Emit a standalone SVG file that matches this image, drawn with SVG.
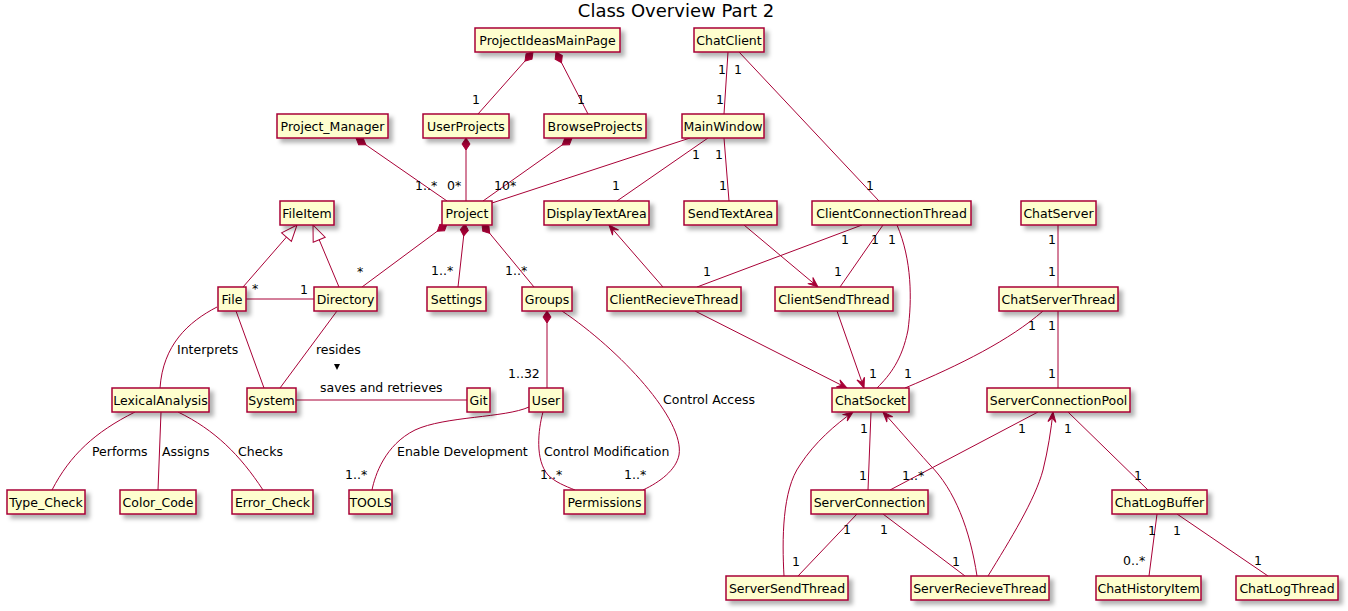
<svg xmlns="http://www.w3.org/2000/svg" width="1348" height="611" viewBox="0 0 1348 611">
<style>
.n rect{fill:#FEFECE;stroke:#A80036;stroke-width:1.5;filter:url(#sh)}
.n text{font-family:"DejaVu Sans",sans-serif;font-size:12.5px;text-anchor:middle;fill:#000}
.e path{stroke:#A80036;stroke-width:1;fill:none}
.l text{font-family:"DejaVu Sans",sans-serif;font-size:12.5px;fill:#000}
.comp{marker-start:url(#dia)}
.inh{marker-start:url(#tri)}
.arr{marker-end:url(#arr)}
</style>
<defs>
<filter id="sh" x="-20%" y="-30%" width="150%" height="200%"><feDropShadow dx="4" dy="4" stdDeviation="2" flood-color="#000" flood-opacity="0.3"/></filter>
<marker id="dia" markerUnits="userSpaceOnUse" viewBox="0 -5 14 10" refX="0" refY="0" markerWidth="14" markerHeight="10" orient="auto" overflow="visible"><path d="M0,0 L6,-4 L12,0 L6,4 Z" fill="#A80036" stroke="#A80036"/></marker>
<marker id="tri" markerUnits="userSpaceOnUse" viewBox="0 -8 18 16" refX="0" refY="0" markerWidth="18" markerHeight="16" orient="auto" overflow="visible"><path d="M0,0 L16,-6.5 L16,6.5 Z" fill="#fff" stroke="#A80036"/></marker>
<marker id="arr" markerUnits="userSpaceOnUse" viewBox="-12 -6 13 12" refX="0" refY="0" markerWidth="13" markerHeight="12" orient="auto" overflow="visible"><path d="M0,0 L-10,-4 L-6,0 L-10,4 Z" fill="#A80036" stroke="#A80036"/></marker>
</defs>
<text x="676" y="17" font-family="DejaVu Sans, sans-serif" font-size="18" text-anchor="middle" fill="#000">Class Overview Part 2</text>
<g class="e" id="connectors">
<path class="comp" d="M533,52 L478,114"/>
<path class="comp" d="M556,52 L588,114"/>
<path class="comp" d="M356,138 L447,201"/>
<path class="comp" d="M466,138 L466,201"/>
<path class="comp" d="M572,138 L483,201"/>
<path class="comp" d="M447,224 L362,287"/>
<path class="comp" d="M465,224 L458,287"/>
<path class="comp" d="M482,224 L534,287"/>
<path class="comp" d="M547,311 L547,388"/>
<path d="M690,138 L492,203"/>
<path d="M708,138 L617,201"/>
<path d="M724,138 L729,201"/>
<path d="M728,52 L724,114"/>
<path d="M739,52 L879,201"/>
<path class="inh" d="M297,225 L243,287"/>
<path class="inh" d="M313,225 L339,287"/>
<path d="M246,299 L314,299"/>
<path d="M217,307 C188,322 163,345 160,388"/>
<path d="M236,311 L264,388"/>
<path d="M337,311 L280,388"/>
<path d="M296,400 L467,400"/>
<path d="M562,311 C620,350 685,420 679,455 C676,470 660,482 643,490"/>
<path d="M529,407 C505,418 445,416 415,430 C385,445 375,475 372,490"/>
<path d="M543,412 C538,430 535,460 548,475 C555,482 565,486 575,490"/>
<path d="M135,412 C95,432 70,455 52,490"/>
<path d="M161,412 L158,490"/>
<path d="M178,412 C215,430 240,455 263,490"/>
<path class="arr" d="M663,287 L609,225"/>
<path class="arr" d="M744,225 L818,287"/>
<path d="M862,225 L697,287"/>
<path d="M883,225 L840,287"/>
<path d="M897,225 C912,260 912,300 908,330 C902,360 890,375 877,388"/>
<path class="arr" d="M695,311 L847,388"/>
<path class="arr" d="M837,311 L864,388"/>
<path d="M1043,311 C1010,340 960,365 905,388"/>
<path d="M1058,225 L1058,287"/>
<path d="M1058,311 L1058,388"/>
<path d="M871,412 L868,490"/>
<path d="M1038,412 L890,490"/>
<path d="M1068,412 L1148,490"/>
<path class="arr" d="M784,576 C782,540 782,490 800,465 C815,442 835,425 853,412"/>
<path d="M857,514 L798,576"/>
<path d="M883,514 L965,576"/>
<path class="arr" d="M977,576 C970,530 955,490 930,465 C912,445 895,425 883,412"/>
<path class="arr" d="M988,576 C1010,540 1035,500 1043,470 C1048,450 1051,430 1053,412"/>
<path d="M1157,514 L1149,576"/>
<path d="M1177,514 L1268,576"/>
<polygon points="334,364 340,364 337,370" fill="#000"/>
</g>
<g class="l" id="labels">
<text x="472" y="104">1</text>
<text x="577" y="104">1</text>
<text x="415" y="190">1..*</text>
<text x="447" y="190">0*</text>
<text x="494" y="190">10*</text>
<text x="612" y="190">1</text>
<text x="718" y="74">1</text>
<text x="734" y="74">1</text>
<text x="716" y="104">1</text>
<text x="692" y="159">1</text>
<text x="715" y="159">1</text>
<text x="719" y="190">1</text>
<text x="866" y="190">1</text>
<text x="252" y="293">*</text>
<text x="300" y="294">1</text>
<text x="357" y="276">*</text>
<text x="431" y="275">1..*</text>
<text x="505" y="275">1..*</text>
<text x="508" y="378">1..32</text>
<text x="316" y="354">resides</text>
<text x="320" y="392">saves and retrieves</text>
<text x="177" y="354">Interprets</text>
<text x="92" y="456">Performs</text>
<text x="162" y="456">Assigns</text>
<text x="238" y="456">Checks</text>
<text x="345" y="479">1..*</text>
<text x="397" y="456">Enable Development</text>
<text x="544" y="456">Control Modification</text>
<text x="540" y="479">1..*</text>
<text x="624" y="479">1..*</text>
<text x="663" y="404">Control Access</text>
<text x="841" y="244">1</text>
<text x="871" y="244">1</text>
<text x="888" y="244">1</text>
<text x="703" y="276">1</text>
<text x="834" y="276">1</text>
<text x="869" y="378">1</text>
<text x="904" y="378">1</text>
<text x="1048" y="244">1</text>
<text x="1048" y="276">1</text>
<text x="1028" y="330">1</text>
<text x="1048" y="330">1</text>
<text x="1048" y="378">1</text>
<text x="860" y="433">1</text>
<text x="859" y="480">1</text>
<text x="902" y="480">1..*</text>
<text x="1018" y="433">1</text>
<text x="1064" y="433">1</text>
<text x="843" y="534">1</text>
<text x="880" y="534">1</text>
<text x="792" y="566">1</text>
<text x="952" y="566">1</text>
<text x="1134" y="480">1</text>
<text x="1148" y="535">1</text>
<text x="1173" y="535">1</text>
<text x="1123" y="565">0..*</text>
<text x="1254" y="565">1</text>
</g>
<g class="n" id="ProjectIdeasMainPage"><rect x="475" y="28" width="145" height="24"/><text x="547.5" y="45">ProjectIdeasMainPage</text></g>
<g class="n" id="ChatClient"><rect x="694" y="28" width="70" height="24"/><text x="729" y="45">ChatClient</text></g>
<g class="n" id="Project_Manager"><rect x="277" y="114" width="111" height="24"/><text x="332.5" y="131">Project_Manager</text></g>
<g class="n" id="UserProjects"><rect x="423" y="114" width="86" height="24"/><text x="466" y="131">UserProjects</text></g>
<g class="n" id="BrowseProjects"><rect x="544" y="114" width="102" height="24"/><text x="595" y="131">BrowseProjects</text></g>
<g class="n" id="MainWindow"><rect x="682" y="114" width="82" height="24"/><text x="723" y="131">MainWindow</text></g>
<g class="n" id="FileItem"><rect x="280" y="201" width="54" height="24"/><text x="307" y="218">FileItem</text></g>
<g class="n" id="Project"><rect x="442" y="201" width="50" height="24"/><text x="467" y="218">Project</text></g>
<g class="n" id="DisplayTextArea"><rect x="544" y="201" width="105" height="24"/><text x="596.5" y="218">DisplayTextArea</text></g>
<g class="n" id="SendTextArea"><rect x="684" y="201" width="93" height="24"/><text x="730.5" y="218">SendTextArea</text></g>
<g class="n" id="ClientConnectionThread"><rect x="812" y="201" width="159" height="24"/><text x="891.5" y="218">ClientConnectionThread</text></g>
<g class="n" id="ChatServer"><rect x="1021" y="201" width="75" height="24"/><text x="1058.5" y="218">ChatServer</text></g>
<g class="n" id="File"><rect x="218" y="287" width="28" height="24"/><text x="232" y="304">File</text></g>
<g class="n" id="Directory"><rect x="314" y="287" width="63" height="24"/><text x="345.5" y="304">Directory</text></g>
<g class="n" id="Settings"><rect x="427" y="287" width="59" height="24"/><text x="456.5" y="304">Settings</text></g>
<g class="n" id="Groups"><rect x="522" y="287" width="50" height="24"/><text x="547" y="304">Groups</text></g>
<g class="n" id="ClientRecieveThread"><rect x="607" y="287" width="134" height="24"/><text x="674" y="304">ClientRecieveThread</text></g>
<g class="n" id="ClientSendThread"><rect x="775" y="287" width="118" height="24"/><text x="834" y="304">ClientSendThread</text></g>
<g class="n" id="ChatServerThread"><rect x="999" y="287" width="119" height="24"/><text x="1058.5" y="304">ChatServerThread</text></g>
<g class="n" id="LexicalAnalysis"><rect x="112" y="388" width="97" height="24"/><text x="160.5" y="405">LexicalAnalysis</text></g>
<g class="n" id="System"><rect x="247" y="388" width="49" height="24"/><text x="271.5" y="405">System</text></g>
<g class="n" id="Git"><rect x="467" y="388" width="23" height="24"/><text x="478.5" y="405">Git</text></g>
<g class="n" id="User"><rect x="529" y="388" width="34" height="24"/><text x="546" y="405">User</text></g>
<g class="n" id="ChatSocket"><rect x="832" y="388" width="77" height="24"/><text x="870.5" y="405">ChatSocket</text></g>
<g class="n" id="ServerConnectionPool"><rect x="987" y="388" width="143" height="24"/><text x="1058.5" y="405">ServerConnectionPool</text></g>
<g class="n" id="Type_Check"><rect x="7" y="490" width="78" height="24"/><text x="46" y="507">Type_Check</text></g>
<g class="n" id="Color_Code"><rect x="120" y="490" width="76" height="24"/><text x="158" y="507">Color_Code</text></g>
<g class="n" id="Error_Check"><rect x="232" y="490" width="81" height="24"/><text x="272.5" y="507">Error_Check</text></g>
<g class="n" id="TOOLS"><rect x="349" y="490" width="43" height="24"/><text x="370.5" y="507">TOOLS</text></g>
<g class="n" id="Permissions"><rect x="564" y="490" width="81" height="24"/><text x="604.5" y="507">Permissions</text></g>
<g class="n" id="ServerConnection"><rect x="811" y="490" width="117" height="24"/><text x="869.5" y="507">ServerConnection</text></g>
<g class="n" id="ChatLogBuffer"><rect x="1112" y="490" width="95" height="24"/><text x="1159.5" y="507">ChatLogBuffer</text></g>
<g class="n" id="ServerSendThread"><rect x="726" y="576" width="122" height="24"/><text x="787" y="593">ServerSendThread</text></g>
<g class="n" id="ServerRecieveThread"><rect x="911" y="576" width="138" height="24"/><text x="980" y="593">ServerRecieveThread</text></g>
<g class="n" id="ChatHistoryItem"><rect x="1096" y="576" width="105" height="24"/><text x="1148.5" y="593">ChatHistoryItem</text></g>
<g class="n" id="ChatLogThread"><rect x="1236" y="576" width="102" height="24"/><text x="1287" y="593">ChatLogThread</text></g>
</svg>
